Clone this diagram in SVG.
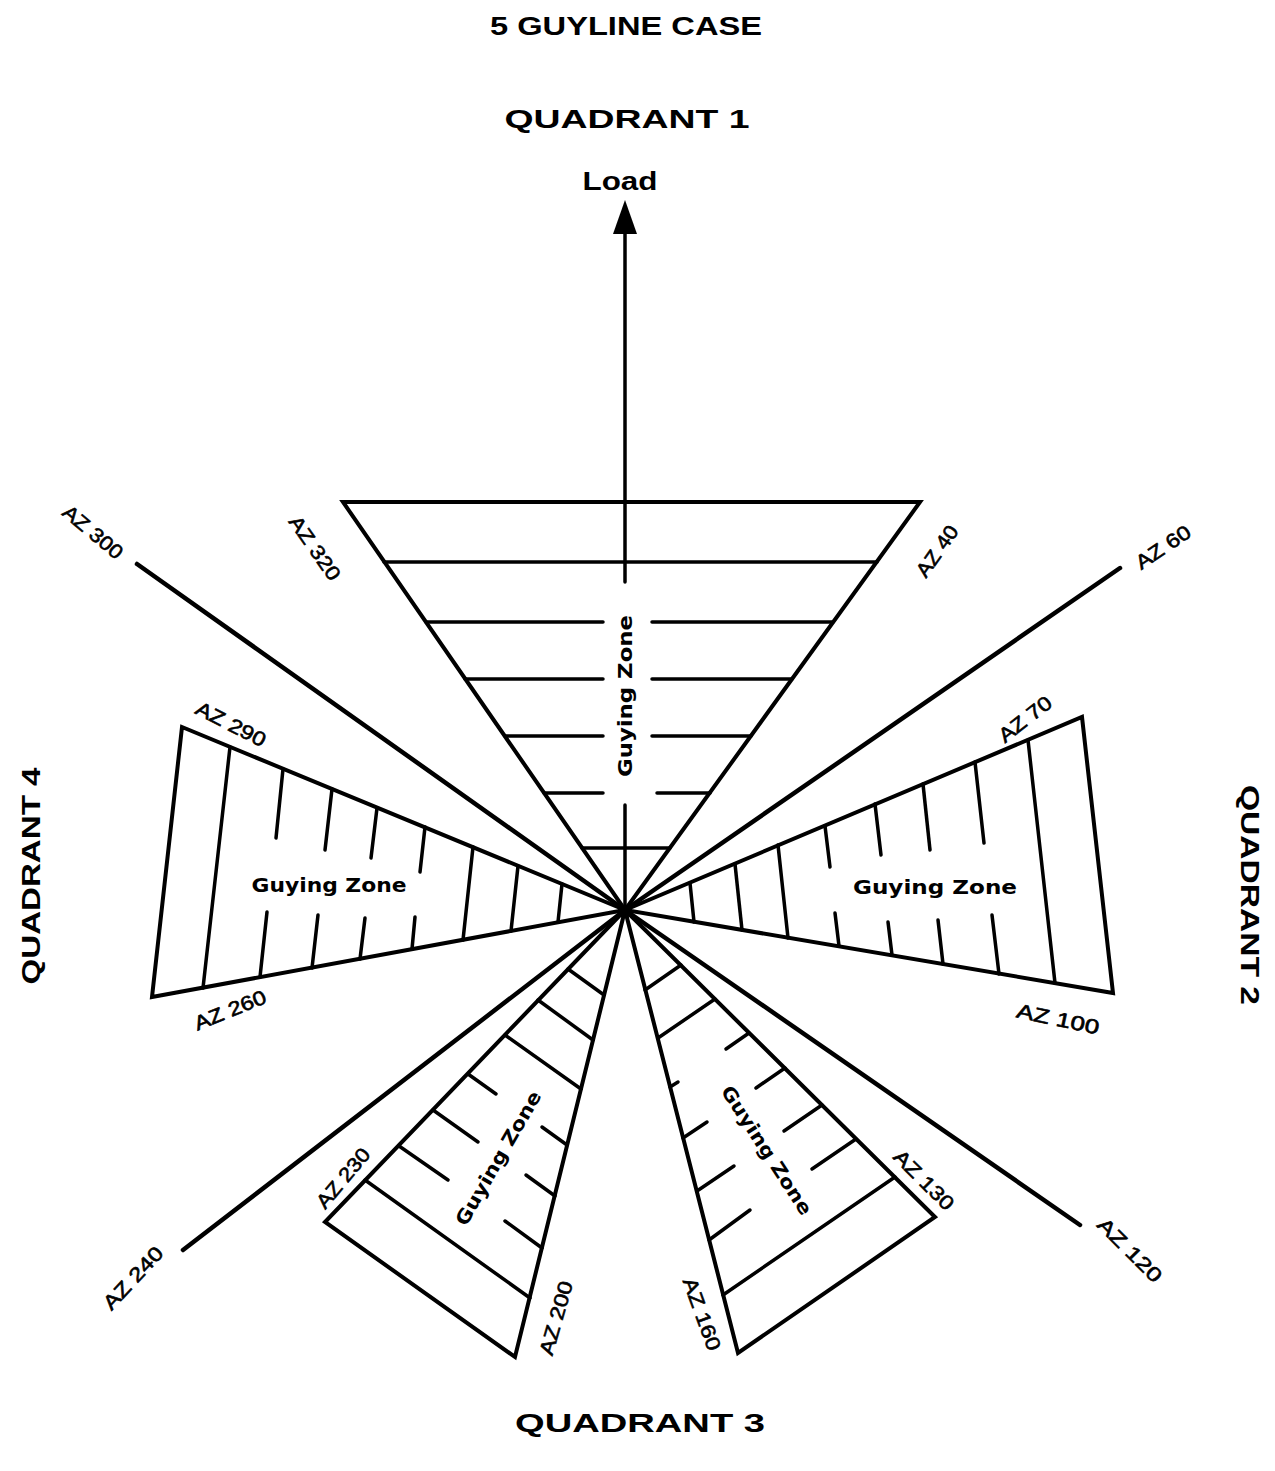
<svg xmlns="http://www.w3.org/2000/svg" width="1275" height="1471" viewBox="0 0 1275 1471">
<style>
.edge{fill:none;stroke:#000;stroke-width:4;stroke-linejoin:miter;stroke-linecap:round}
.hatch{fill:none;stroke:#000;stroke-width:3.5;stroke-linecap:round}
.ray{fill:none;stroke:#000;stroke-width:4.5;stroke-linecap:round}
.az{font-family:"Liberation Sans",Arial,sans-serif;font-size:20px;fill:#000;stroke:#000;stroke-width:0.6;text-anchor:middle}
.gz{font-family:"DejaVu Sans","Liberation Sans",sans-serif;font-size:19px;font-weight:bold;fill:#000;text-anchor:middle}
.quad{font-family:"Liberation Sans",Arial,sans-serif;font-size:26px;font-weight:bold;fill:#000;text-anchor:middle}
</style>
<rect width="1275" height="1471" fill="#fff"/>

<g id="title">
<text class="quad" x="626" y="35" font-size="27" textLength="272" lengthAdjust="spacingAndGlyphs">5 GUYLINE CASE</text>
</g>
<g id="quadrant1"><text class="quad" x="627" y="128" textLength="245" lengthAdjust="spacingAndGlyphs">QUADRANT 1</text></g>
<g id="quadrant2"><text class="quad" transform="translate(1250,895) rotate(90)" x="0" y="9" textLength="220" lengthAdjust="spacingAndGlyphs">QUADRANT 2</text></g>
<g id="quadrant3"><text class="quad" x="640" y="1432" textLength="250" lengthAdjust="spacingAndGlyphs">QUADRANT 3</text></g>
<g id="quadrant4"><text class="quad" transform="translate(31,876) rotate(-90)" x="0" y="9" textLength="217" lengthAdjust="spacingAndGlyphs">QUADRANT 4</text></g>

<g id="load">
<text class="quad" x="620" y="190" textLength="75" lengthAdjust="spacingAndGlyphs">Load</text>
<polygon points="625,200 613,234 637,234" fill="#000"/>
</g>

<g id="connectors">
<line class="hatch" x1="625" y1="232" x2="625" y2="582"/>
<line class="hatch" x1="625" y1="805" x2="625" y2="910"/>
<line class="ray" x1="625" y1="910" x2="137" y2="564"/>
<line class="ray" x1="625" y1="910" x2="1120" y2="568"/>
<line class="ray" x1="625" y1="910" x2="183" y2="1250"/>
<line class="ray" x1="625" y1="910" x2="1080" y2="1225"/>
</g>

<g id="zone-top">
<polygon class="edge" points="343,502 920,502 625,910"/>
<line class="hatch" x1="384" y1="562" x2="877" y2="562"/>
<line class="hatch" x1="426" y1="622" x2="603" y2="622"/>
<line class="hatch" x1="652" y1="622" x2="833" y2="622"/>
<line class="hatch" x1="465" y1="679" x2="603" y2="679"/>
<line class="hatch" x1="652" y1="679" x2="792" y2="679"/>
<line class="hatch" x1="505" y1="736" x2="603" y2="736"/>
<line class="hatch" x1="652" y1="736" x2="751" y2="736"/>
<line class="hatch" x1="544" y1="793" x2="603" y2="793"/>
<line class="hatch" x1="657" y1="793" x2="710" y2="793"/>
<line class="hatch" x1="582" y1="848" x2="670" y2="848"/>
<text class="gz" transform="translate(625,696) rotate(-90)" x="0" y="7" textLength="162" lengthAdjust="spacingAndGlyphs">Guying Zone</text>
<text class="az" transform="translate(315,548) rotate(55)" x="0" y="7" textLength="74" lengthAdjust="spacingAndGlyphs">AZ 320</text>
<text class="az" transform="translate(937,551) rotate(-55)" x="0" y="7" textLength="58" lengthAdjust="spacingAndGlyphs">AZ 40</text>
</g>

<g id="zone-left">
<polygon class="edge" points="625,910 182,727 152,997"/>
<line class="hatch" x1="230" y1="747" x2="203" y2="988"/>
<line class="hatch" x1="283" y1="769" x2="276" y2="838"/>
<line class="hatch" x1="267" y1="912" x2="260" y2="977"/>
<line class="hatch" x1="332" y1="789" x2="325" y2="850"/>
<line class="hatch" x1="318" y1="915" x2="312" y2="968"/>
<line class="hatch" x1="377" y1="808" x2="371" y2="858"/>
<line class="hatch" x1="365" y1="918" x2="360" y2="959"/>
<line class="hatch" x1="425" y1="827" x2="420" y2="872"/>
<line class="hatch" x1="415" y1="917" x2="412" y2="949"/>
<line class="hatch" x1="473" y1="847" x2="463" y2="940"/>
<line class="hatch" x1="518" y1="866" x2="511" y2="931"/>
<line class="hatch" x1="562" y1="884" x2="558" y2="922"/>
<text class="gz" x="329" y="892" textLength="155" lengthAdjust="spacingAndGlyphs">Guying Zone</text>
<text class="az" transform="translate(231,724) rotate(27)" x="0" y="7" textLength="76" lengthAdjust="spacingAndGlyphs">AZ 290</text>
<text class="az" transform="translate(230,1010) rotate(-22)" x="0" y="7" textLength="76" lengthAdjust="spacingAndGlyphs">AZ 260</text>
</g>

<g id="zone-right">
<polygon class="edge" points="625,910 1082,717 1113,993"/>
<line class="hatch" x1="1028" y1="740" x2="1055" y2="983"/>
<line class="hatch" x1="975" y1="762" x2="984" y2="843"/>
<line class="hatch" x1="992" y1="915" x2="999" y2="974"/>
<line class="hatch" x1="923" y1="784" x2="930" y2="850"/>
<line class="hatch" x1="938" y1="920" x2="943" y2="964"/>
<line class="hatch" x1="875" y1="804" x2="881" y2="855"/>
<line class="hatch" x1="888" y1="922" x2="892" y2="955"/>
<line class="hatch" x1="825" y1="826" x2="830" y2="867"/>
<line class="hatch" x1="835" y1="913" x2="839" y2="946"/>
<line class="hatch" x1="778" y1="845" x2="788" y2="938"/>
<line class="hatch" x1="735" y1="864" x2="742" y2="930"/>
<line class="hatch" x1="690" y1="883" x2="694" y2="922"/>
<text class="gz" x="935" y="894" textLength="164" lengthAdjust="spacingAndGlyphs">Guying Zone</text>
<text class="az" transform="translate(1025,719) rotate(-38)" x="0" y="7" textLength="62" lengthAdjust="spacingAndGlyphs">AZ 70</text>
<text class="az" transform="translate(1058,1019) rotate(12)" x="0" y="7" textLength="84" lengthAdjust="spacingAndGlyphs">AZ 100</text>
</g>

<g id="zone-bottom-left">
<polygon class="edge" points="625,910 325,1222 515,1357"/>
<line class="hatch" x1="365" y1="1180" x2="530" y2="1298"/>
<line class="hatch" x1="399" y1="1146" x2="448" y2="1180"/>
<line class="hatch" x1="505" y1="1221" x2="542" y2="1248"/>
<line class="hatch" x1="433" y1="1110" x2="478" y2="1142"/>
<line class="hatch" x1="526" y1="1175" x2="555" y2="1196"/>
<line class="hatch" x1="468" y1="1074" x2="496" y2="1094"/>
<line class="hatch" x1="542" y1="1127" x2="567" y2="1145"/>
<line class="hatch" x1="505" y1="1035" x2="581" y2="1089"/>
<line class="hatch" x1="538" y1="1000" x2="593" y2="1040"/>
<line class="hatch" x1="568" y1="969" x2="604" y2="995"/>
<text class="gz" transform="translate(498,1158) rotate(-60)" x="0" y="7" textLength="152" lengthAdjust="spacingAndGlyphs">Guying Zone</text>
<text class="az" transform="translate(343,1178) rotate(-50)" x="0" y="7" textLength="72" lengthAdjust="spacingAndGlyphs">AZ 230</text>
<text class="az" transform="translate(556,1318) rotate(-74)" x="0" y="7" textLength="76" lengthAdjust="spacingAndGlyphs">AZ 200</text>
<text class="az" transform="translate(133,1278) rotate(-47)" x="0" y="7" textLength="78" lengthAdjust="spacingAndGlyphs">AZ 240</text>
<text class="az" transform="translate(93,532) rotate(40)" x="0" y="7" textLength="72" lengthAdjust="spacingAndGlyphs">AZ 300</text>
</g>

<g id="zone-bottom-right">
<polygon class="edge" points="625,910 935,1217 738,1353"/>
<line class="hatch" x1="895" y1="1177" x2="723" y2="1295"/>
<line class="hatch" x1="856" y1="1139" x2="812" y2="1169"/>
<line class="hatch" x1="750" y1="1210" x2="709" y2="1240"/>
<line class="hatch" x1="822" y1="1105" x2="784" y2="1131"/>
<line class="hatch" x1="734" y1="1166" x2="697" y2="1191"/>
<line class="hatch" x1="785" y1="1068" x2="756" y2="1088"/>
<line class="hatch" x1="707" y1="1122" x2="683" y2="1138"/>
<line class="hatch" x1="749" y1="1033" x2="726" y2="1049"/>
<line class="hatch" x1="678" y1="1082" x2="670" y2="1087"/>
<line class="hatch" x1="715" y1="999" x2="658" y2="1038"/>
<line class="hatch" x1="681" y1="965" x2="645" y2="990"/>
<text class="gz" transform="translate(767,1150) rotate(57)" x="0" y="7" textLength="150" lengthAdjust="spacingAndGlyphs">Guying Zone</text>
<text class="az" transform="translate(702,1314) rotate(70)" x="0" y="7" textLength="76" lengthAdjust="spacingAndGlyphs">AZ 160</text>
<text class="az" transform="translate(924,1180) rotate(45)" x="0" y="7" textLength="76" lengthAdjust="spacingAndGlyphs">AZ 130</text>
<text class="az" transform="translate(1130,1250) rotate(45)" x="0" y="7" textLength="82" lengthAdjust="spacingAndGlyphs">AZ 120</text>
<text class="az" transform="translate(1163,547) rotate(-34)" x="0" y="7" textLength="62" lengthAdjust="spacingAndGlyphs">AZ 60</text>
</g>
</svg>
